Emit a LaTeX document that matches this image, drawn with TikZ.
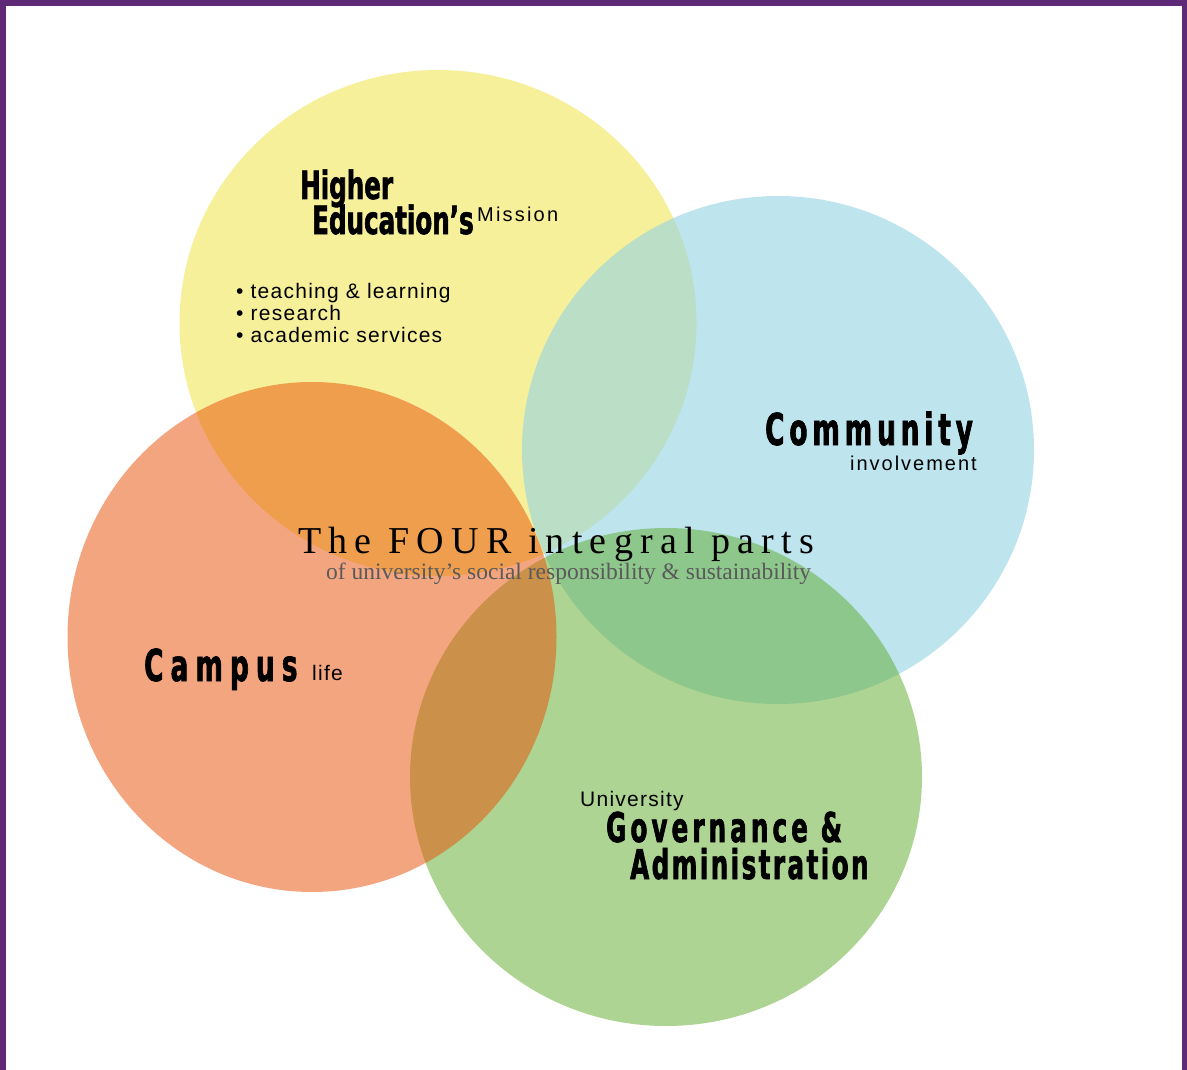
\documentclass[tikz,border=0pt]{standalone}
\usepackage{fontspec}
\usetikzlibrary{shapes.geometric}
\setmainfont{Liberation Serif}
\newfontfamily\headfont[FakeStretch=0.63,FakeBold=1.5]{DejaVu Sans}
\newfontfamily\widefont[FakeStretch=0.6,FakeBold=1.5]{DejaVu Sans}
\newfontfamily\plainfont[LetterSpace=6]{Liberation Sans}
\newfontfamily\titlefont[LetterSpace=19]{Liberation Serif}
\definecolor{FrameViolet}{HTML}{5E2A78}
\definecolor{MissionYellow}{HTML}{F7F09B}
\definecolor{CommunityBlue}{HTML}{93D2E3}
\definecolor{CampusOrange}{HTML}{E94D00}
\definecolor{GovGreen}{HTML}{5DAB29}
\definecolor{SubGray}{HTML}{5A5A5A}

\begin{document}
\begin{tikzpicture}[x=1pt, y=-1pt,
  disc/.style 2 args={ellipse, inner sep=0pt, minimum width=#1, minimum height=#2},
  txt/.style={anchor=base west, inner sep=0pt},
  heavy/.style={txt, font=\headfont\bfseries\fontsize{39}{39}\selectfont},
  wide/.style 2 args={txt, font=\widefont\bfseries\fontsize{#1}{#1}\selectfont\addfontfeature{LetterSpace=#2}},
  plain/.style={txt, font=\plainfont\fontsize{21}{21}\selectfont},
  spaced/.style={txt, font=\plainfont\fontsize{20}{20}\selectfont\addfontfeature{LetterSpace=#1}}
]
% frame
\fill[FrameViolet] (0,0) rectangle (1187,1070);
\fill[white] (6,6) rectangle (1182,1070);
\useasboundingbox (0,0) rectangle (1187,1070);

% the four circles, yellow at the bottom, orange on top
\node[disc={517}{506}, fill=MissionYellow] (missionc) at (438,323) {};
\node[disc={512}{508}, fill=CommunityBlue, fill opacity=0.6] (communityc) at (778,450) {};
\node[disc={512}{498}, fill=GovGreen, fill opacity=0.5] (govc) at (666,777) {};
\node[disc={489}{510}, fill=CampusOrange, fill opacity=0.5] (campusc) at (312,637) {};

% higher education
\node[heavy] (higher) at (300,199) {Higher};
\node[heavy] (educ)   at (312,234) {Education’s};
\node[spaced=11] (mission) at (477,222) {Mission};
\node[plain] (teach) at (236,298) {• teaching \& learning};
\node[plain] (res)   at (236,320) {• research};
\node[plain] (acad)  at (236,342) {• academic services};

% community
\node[wide={44}{11}] (comm) at (765,445) {Community};
\node[spaced=10, anchor=base east] (invol) at (977,470) {involvement};

% centre
\node[txt, font=\titlefont\fontsize{38}{38}\selectfont] (four) at (298,553) {The FOUR integral parts};
\node[txt, text=SubGray, font=\rmfamily\fontsize{23.5}{23.5}\selectfont] (sub) at (326,579) {of university’s social responsibility \& sustainability};

% campus
\node[wide={44}{16}] (campus) at (144,681) {Campus};
\node[plain] (life) at (312,680) {life};

% governance
\node[plain] (univ) at (580,806) {University};
\node[wide={41}{10}] (gov) at (606,842) {Governance \&};
\node[wide={41}{6}] (admin) at (630,879) {Administration};
\end{tikzpicture}
\end{document}
